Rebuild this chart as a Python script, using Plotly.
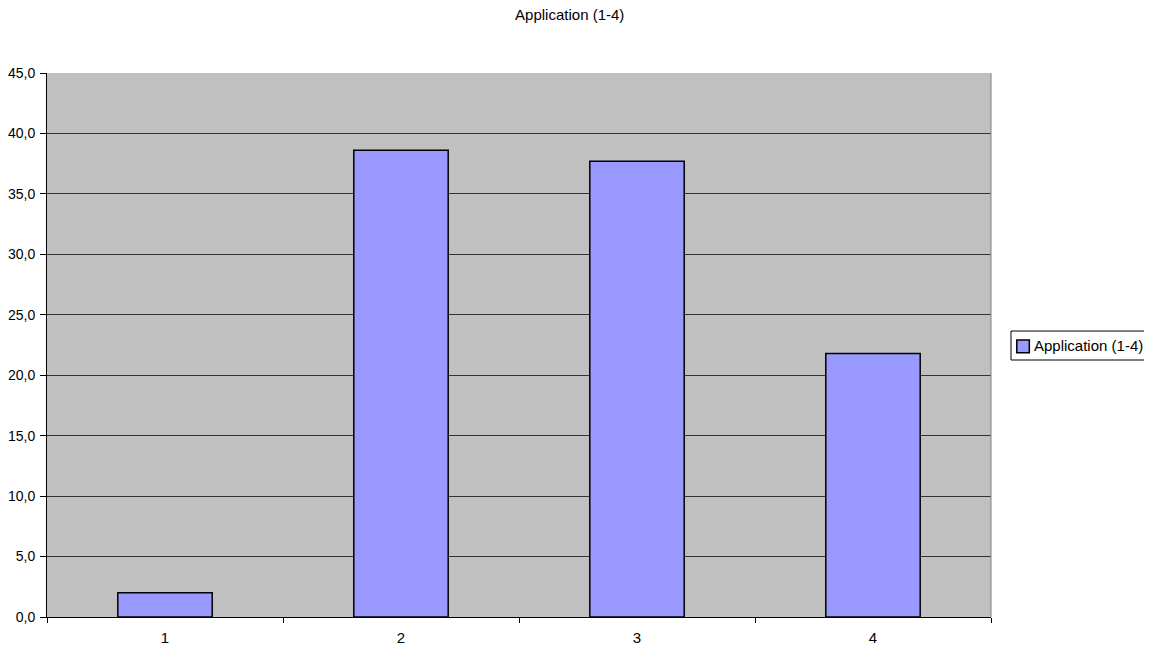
import plotly.graph_objects as go

categories = ["1", "2", "3", "4"]
values = [2.0, 38.6, 37.7, 21.8]
series_name = "Application (1-4)"
y_ticks = [0, 5, 10, 15, 20, 25, 30, 35, 40, 45]

fig = go.Figure()
fig.add_trace(go.Bar(
    x=categories, y=values, name=series_name,
    marker=dict(color="#9999ff", line=dict(color="black", width=1.5)),
    showlegend=False,
))

# Legend drawn as a box, a swatch and the series name (Excel-style)
legend_shapes = [
    dict(type="rect", xref="paper", yref="paper", x0=1.0212, x1=1.25, y0=0.4724, y1=0.5257,
         line=dict(color="black", width=1), fillcolor="white", layer="above"),
    dict(type="rect", xref="paper", yref="paper", x0=1.0273, x1=1.0406, y0=0.4858, y1=0.5092,
         line=dict(color="black", width=1.5), fillcolor="#9999ff", layer="above"),
    dict(type="line", xref="paper", yref="paper", x0=1, x1=1, y0=0, y1=1,
         line=dict(color="#808080", width=1)),
]

fig.update_layout(
    width=1144, height=640,
    margin=dict(l=39, r=161, t=65, b=31, autoexpand=False),
    paper_bgcolor="white", plot_bgcolor="#c0c0c0",
    font=dict(family="Liberation Sans, Arial, sans-serif", size=15, color="black"),
    separators=",.",
    bargap=0.6,
    title=dict(text=series_name, x=0.491, xanchor="center", y=0.9969, yanchor="top",
               font=dict(size=15, color="black")),
    showlegend=False,
    xaxis=dict(type="category", showgrid=False, ticks="outside", tickson="boundaries",
               ticklen=5, tickcolor="black", showline=True, linecolor="black", linewidth=1,
               zeroline=False, tickfont=dict(size=15), automargin=False,
               ticklabelstandoff=7),
    yaxis=dict(range=[0, 45], tickvals=y_ticks, tickformat=".1f", showgrid=True,
               gridcolor="#333333", gridwidth=1, ticks="outside", ticklen=6,
               tickcolor="black", showline=True, linecolor="black", linewidth=1,
               zeroline=False, tickfont=dict(size=14), automargin=False,
               ticklabelstandoff=2),
    shapes=legend_shapes,
    annotations=[dict(text=series_name, xref="paper", yref="paper", x=1.0434, y=0.4982,
                      xanchor="left", yanchor="middle", showarrow=False,
                      font=dict(size=15, color="black"))],
)

fig.write_html("out.html")
